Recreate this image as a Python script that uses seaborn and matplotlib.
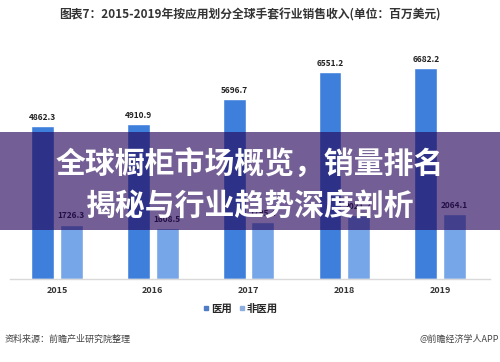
import numpy as np
import pandas as pd
import matplotlib
matplotlib.use('Agg')
import matplotlib.pyplot as plt
from matplotlib.patches import Rectangle
import seaborn as sns

# data (2017/2018 non-medical are hidden by the banner, estimated)
years = ['2015', '2016', '2017', '2018', '2019']
medical = [4862.3, 4910.9, 5696.7, 6551.2, 6682.2]
non_medical = [1726.3, 1608.5, 1795.4, 2021.7, 2064.1]
series_names = ['医用', '非医用']

title = '图表7：2015-2019年按应用划分全球手套行业销售收入(单位：百万美元)'
banner_lines = ['全球橱柜市场概览，销量排名', '揭秘与行业趋势深度剖析']
source = '资料来源：前瞻产业研究院整理'
credit = '@前瞻经济学人APP'

df = pd.DataFrame({
    'year': years * 2,
    'value': medical + non_medical,
    'type': [series_names[0]] * len(years) + [series_names[1]] * len(years),
})

sns.set_theme(style='white')
plt.rcParams['font.family'] = ['Noto Sans CJK SC', 'DejaVu Sans']

fig = plt.figure(figsize=(5, 3.62), dpi=100)
ax = fig.add_axes([0.02, 0.2293, 0.96, 0.6326])

palette = {'医用': '#3f7fdc', '非医用': '#77a6e8'}
sns.barplot(data=df, x='year', y='value', hue='type', palette=palette,
            width=0.6, gap=0.2, ax=ax, legend=False, saturation=1)

for cont in ax.containers:
    ax.bar_label(cont, fmt='%.1f', fontsize=6, fontweight='bold',
                 color='#222222', padding=3)

ax.set_xlim(-0.49, 4.52)
ax.set_ylim(0, 7263)
ax.set_xlabel('')
ax.set_ylabel('')
ax.set_yticks([])
for s in ['top', 'left', 'right']:
    ax.spines[s].set_visible(False)
ax.spines['bottom'].set_color('#d9d9d9')
ax.spines['bottom'].set_linewidth(1.0)
ax.tick_params(axis='x', length=0, pad=5)
for lab in ax.get_xticklabels():
    lab.set_fontsize(6.5)
    lab.set_fontweight('bold')
    lab.set_color('#333333')

# legend
leg_colors = ['#4f7cc4', '#8eaee0']
handles = [plt.Line2D([], [], marker='s', linestyle='', markersize=3.5,
                      color=c) for c in leg_colors]
fig.legend(handles, series_names, loc='center', bbox_to_anchor=(0.48, 1 - 309 / 362),
           ncol=2, frameon=False, handletextpad=0.05, columnspacing=0.6,
           handlelength=0.8, prop={'weight': 'bold', 'size': 7.5})

fig.text(0.5, 1 - 15 / 362, title, ha='center', va='center', fontsize=8.5,
         fontweight='bold', color='#333333')
fig.text(0.01, 1 - 339 / 362, source, ha='left', va='center', fontsize=6.5,
         color='#444444')
fig.text(0.998, 1 - 339 / 362, credit, ha='right', va='center', fontsize=6.5,
         color='#444444')

# purple banner over the chart
fig.add_artist(Rectangle((0, 1 - 230 / 362), 1, 98 / 362, transform=fig.transFigure,
                         facecolor=(36 / 255, 5 / 255, 89 / 255), alpha=0.64,
                         edgecolor='none', zorder=5))
fig.text(0.5, 1 - 165 / 362, banner_lines[0], ha='center', va='center', fontsize=21.5,
         fontweight='bold', color='white', zorder=6)
fig.text(0.5, 1 - 207 / 362, banner_lines[1], ha='center', va='center', fontsize=21.5,
         fontweight='bold', color='white', zorder=6)

fig.savefig('out.png', dpi=100)
